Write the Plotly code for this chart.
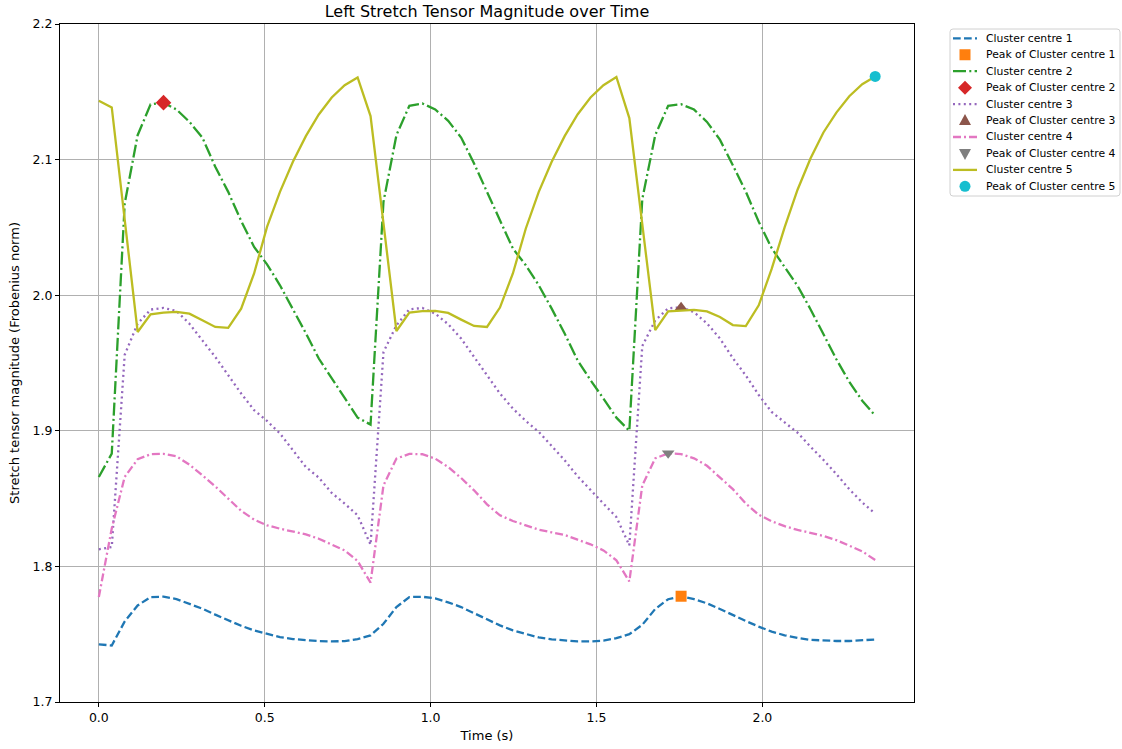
import numpy as np
import plotly.graph_objects as go

# Sample times (s): 61 frames at a 0.039 s step
time_s = np.round(np.arange(61) * 0.039, 3)

cluster_1 = [
    1.7425, 1.7417, 1.7594, 1.7712, 1.7774, 1.7777, 1.7759, 1.7725, 1.7688, 1.7644,
    1.7602, 1.7562, 1.7528, 1.7501, 1.7479, 1.7464, 1.7454, 1.7449, 1.7447, 1.7449,
    1.7464, 1.7491, 1.7577, 1.7700, 1.7774, 1.7776, 1.7764, 1.7735, 1.7700, 1.7656,
    1.7607, 1.7565, 1.7528, 1.7501, 1.7476, 1.7462, 1.7452, 1.7447, 1.7447, 1.7452,
    1.7471, 1.7500, 1.7569, 1.7686, 1.7758, 1.7780, 1.7758, 1.7728, 1.7686, 1.7639,
    1.7597, 1.7556, 1.7519, 1.7492, 1.7472, 1.7458, 1.7453, 1.7450, 1.7450, 1.7453,
    1.7461,
]

cluster_2 = [
    1.8659, 1.8832, 2.0676, 2.1180, 2.1407, 2.1420, 2.1370, 2.1279, 2.1163, 2.0947,
    2.0762, 2.0548, 2.0356, 2.0228, 2.0073, 1.9901, 1.9720, 1.9533, 1.9385, 1.9238,
    1.9097, 1.9046, 2.0689, 2.1180, 2.1397, 2.1414, 2.1370, 2.1286, 2.1163, 2.0971,
    2.0762, 2.0553, 2.0344, 2.0221, 2.0073, 1.9901, 1.9717, 1.9520, 1.9373, 1.9238,
    1.9097, 1.9000, 2.0708, 2.1180, 2.1397, 2.1408, 2.1369, 2.1278, 2.1147, 2.0958,
    2.0764, 2.0542, 2.0347, 2.0208, 2.0069, 1.9897, 1.9717, 1.9528, 1.9361, 1.9222,
    1.9111,
]

cluster_3 = [
    1.8126, 1.8143, 1.9560, 1.9790, 1.9894, 1.9906, 1.9884, 1.9790, 1.9667, 1.9545,
    1.9410, 1.9275, 1.9152, 1.9073, 1.8980, 1.8856, 1.8733, 1.8655, 1.8542, 1.8463,
    1.8377, 1.8160, 1.9580, 1.9778, 1.9896, 1.9906, 1.9864, 1.9786, 1.9680, 1.9545,
    1.9410, 1.9275, 1.9164, 1.9073, 1.8992, 1.8886, 1.8783, 1.8665, 1.8561, 1.8463,
    1.8364, 1.8155, 1.9625, 1.9814, 1.9903, 1.9911, 1.9875, 1.9792, 1.9681, 1.9536,
    1.9408, 1.9264, 1.9139, 1.9064, 1.8986, 1.8883, 1.8786, 1.8681, 1.8569, 1.8472,
    1.8389,
]

cluster_4 = [
    1.7774, 1.8280, 1.8660, 1.8790, 1.8827, 1.8830, 1.8812, 1.8750, 1.8672, 1.8590,
    1.8500, 1.8410, 1.8345, 1.8303, 1.8278, 1.8259, 1.8236, 1.8204, 1.8163, 1.8118,
    1.8040, 1.7880, 1.8598, 1.8795, 1.8830, 1.8827, 1.8795, 1.8733, 1.8652, 1.8561,
    1.8458, 1.8377, 1.8335, 1.8303, 1.8271, 1.8251, 1.8232, 1.8197, 1.8163, 1.8118,
    1.8045, 1.7889, 1.8597, 1.8797, 1.8834, 1.8828, 1.8797, 1.8742, 1.8653, 1.8570,
    1.8464, 1.8381, 1.8333, 1.8297, 1.8269, 1.8247, 1.8225, 1.8194, 1.8153, 1.8111,
    1.8047,
]

cluster_5 = [
    2.1434, 2.1385, 2.0558, 1.9729, 1.9859, 1.9872, 1.9877, 1.9864, 1.9815, 1.9766,
    1.9759, 1.9901, 2.0160, 2.0504, 2.0762, 2.0984, 2.1173, 2.1333, 2.1458, 2.1549,
    2.1606, 2.1321, 2.0529, 1.9736, 1.9872, 1.9882, 1.9884, 1.9869, 1.9820, 1.9773,
    1.9766, 1.9909, 2.0160, 2.0492, 2.0762, 2.0984, 2.1173, 2.1333, 2.1458, 2.1549,
    2.1609, 2.1306, 2.0524, 1.9742, 1.9881, 1.9889, 1.9892, 1.9881, 1.9839, 1.9780,
    1.9772, 1.9925, 2.0194, 2.0500, 2.0778, 2.1008, 2.1200, 2.1347, 2.1467, 2.1556,
    2.1613,
]

series = [cluster_1, cluster_2, cluster_3, cluster_4, cluster_5]
names = ["Cluster centre 1", "Cluster centre 2", "Cluster centre 3",
         "Cluster centre 4", "Cluster centre 5"]

line_colors = ["#1f77b4", "#2ca02c", "#9467bd", "#e377c2", "#bcbd22"]
line_dashes = ["7.7px,3.3px", "13px,3.3px,2px,3.3px", "2px,3.4px",
               "8px,3px,2px,3px", "solid"]
peak_colors = ["#ff7f0e", "#d62728", "#8c564b", "#7f7f7f", "#17becf"]
peak_symbols = ["square", "diamond", "triangle-up", "triangle-down", "circle"]
peak_sizes = [11, 12, 11, 11, 11]

FONT = "DejaVu Sans"
LINE_W = 2.3
W, H = 1122, 749
L, R, T, B = 60, 208, 24, 47
PW, PH = W - L - R, H - T - B


def px(x):
    """Pixel column -> paper x fraction."""
    return (x - L) / PW


def py(y):
    """Pixel row -> paper y fraction."""
    return (H - B - y) / PH


fig = go.Figure()
for vals, name, lc, ld, pc, ps, sz in zip(series, names, line_colors, line_dashes,
                                          peak_colors, peak_symbols, peak_sizes):
    vals = np.asarray(vals)
    fig.add_trace(go.Scatter(
        x=time_s, y=vals, mode="lines", name=name, showlegend=False,
        line=dict(color=lc, width=LINE_W, dash=ld),
    ))
    k = int(np.argmax(vals))
    fig.add_trace(go.Scatter(
        x=[time_s[k]], y=[vals[k]], mode="markers", name="Peak of " + name,
        showlegend=False,
        marker=dict(color=pc, symbol=ps, size=sz, line=dict(width=0)),
    ))

# ---- legend panel (drawn with shapes + annotations outside the axes) ----
shapes = []
annotations = []
bx0, bx1, by0, by1, rad = 950, 1120, 29, 196, 3
box_path = (
    f"M {px(bx0 + rad)},{py(by0)} L {px(bx1 - rad)},{py(by0)} "
    f"Q {px(bx1)},{py(by0)} {px(bx1)},{py(by0 + rad)} "
    f"L {px(bx1)},{py(by1 - rad)} Q {px(bx1)},{py(by1)} {px(bx1 - rad)},{py(by1)} "
    f"L {px(bx0 + rad)},{py(by1)} Q {px(bx0)},{py(by1)} {px(bx0)},{py(by1 - rad)} "
    f"L {px(bx0)},{py(by0 + rad)} Q {px(bx0)},{py(by0)} {px(bx0 + rad)},{py(by0)} Z"
)
shapes.append(dict(type="path", xref="paper", yref="paper", path=box_path,
                   line=dict(color="#d0d0d0", width=1), fillcolor="white",
                   layer="above"))

row0, row_step = 38.3, 16.45
sample_x0, sample_x1, glyph_x, text_x = 953, 977, 965, 985


def glyph(symbol, cx, cy, color):
    if symbol == "circle":
        r = 5.5
        return dict(type="circle", xref="paper", yref="paper",
                    x0=px(cx - r), x1=px(cx + r), y0=py(cy + r), y1=py(cy - r),
                    fillcolor=color, line=dict(width=0), layer="above")
    if symbol == "square":
        pts = [(-5.5, -5.5), (5.5, -5.5), (5.5, 5.5), (-5.5, 5.5)]
    elif symbol == "diamond":
        pts = [(0, -7), (7, 0), (0, 7), (-7, 0)]
    elif symbol == "triangle-up":
        pts = [(0, -6.5), (6, 4.5), (-6, 4.5)]
    else:
        pts = [(0, 6.5), (6, -4.5), (-6, -4.5)]
    path = "M " + " L ".join(f"{px(cx + dx)},{py(cy + dy)}" for dx, dy in pts) + " Z"
    return dict(type="path", xref="paper", yref="paper", path=path,
                fillcolor=color, line=dict(width=0), layer="above")


for j in range(5):
    y_line = row0 + (2 * j) * row_step
    y_peak = row0 + (2 * j + 1) * row_step
    shapes.append(dict(type="line", xref="paper", yref="paper",
                       x0=px(sample_x0), x1=px(sample_x1),
                       y0=py(y_line), y1=py(y_line), layer="above",
                       line=dict(color=line_colors[j], width=LINE_W,
                                 dash=line_dashes[j])))
    shapes.append(glyph(peak_symbols[j], glyph_x, y_peak, peak_colors[j]))
    for txt, yy in ((names[j], y_line), ("Peak of " + names[j], y_peak)):
        annotations.append(dict(
            text=txt, xref="paper", yref="paper", x=px(text_x), y=py(yy),
            xanchor="left", yanchor="middle", showarrow=False, borderpad=0,
            font=dict(family=FONT, size=10.8, color="black"),
        ))

axis_common = dict(
    showline=True, linecolor="black", linewidth=1, mirror=True,
    ticks="outside", ticklen=4, tickwidth=1, tickcolor="black",
    showgrid=True, gridcolor="#b0b0b0", gridwidth=0.9, zeroline=False,
    tickfont=dict(family=FONT, size=12.5, color="black"),
    automargin=False,
)

fig.update_layout(
    width=W, height=H,
    margin=dict(l=L, r=R, t=T, b=B, autoexpand=False),
    paper_bgcolor="white", plot_bgcolor="white",
    font=dict(family=FONT, color="black"),
    title=dict(text="Left Stretch Tensor Magnitude over Time",
               x=(L + PW / 2) / W, xanchor="center",
               y=1 - 11 / H, yanchor="middle",
               font=dict(family=FONT, size=16, color="black")),
    xaxis=dict(axis_common, range=[-0.117, 2.457],
               tickvals=[0.0, 0.5, 1.0, 1.5, 2.0],
               ticktext=["0.0", "0.5", "1.0", "1.5", "2.0"],
               title=dict(text="Time (s)", standoff=6,
                          font=dict(family=FONT, size=13))),
    yaxis=dict(axis_common, range=[1.7, 2.2],
               tickvals=[1.7, 1.8, 1.9, 2.0, 2.1, 2.2],
               ticktext=["1.7", "1.8", "1.9", "2.0", "2.1", "2.2"],
               title=dict(text="Stretch tensor magnitude (Frobenius norm)",
                          standoff=10, font=dict(family=FONT, size=13))),
    shapes=shapes,
    annotations=annotations,
    showlegend=False,
)

fig.write_html("out.html")
